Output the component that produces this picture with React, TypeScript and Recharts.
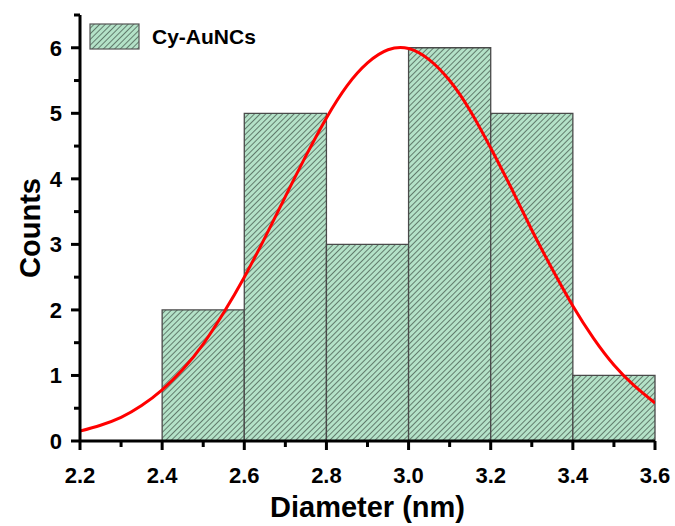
import React from 'react';
import { ComposedChart, Line, XAxis, YAxis, ReferenceArea, ReferenceLine } from 'recharts';

// histogram bins (nm) and counts
const binStarts = [2.4, 2.6, 2.8, 3.0, 3.2, 3.4];
const binEnds = [2.6, 2.8, 3.0, 3.2, 3.4, 3.6];
const counts = [2, 5, 3, 6, 5, 1];

// gaussian fit curve
const fitX = [2.2, 2.25, 2.3, 2.35, 2.4, 2.45, 2.5, 2.55, 2.6, 2.65, 2.7, 2.75, 2.8, 2.85, 2.9, 2.95,
  3.0, 3.05, 3.1, 3.15, 3.2, 3.25, 3.3, 3.35, 3.4, 3.45, 3.5, 3.55, 3.6];
const fitY = [0.15, 0.24, 0.36, 0.54, 0.78, 1.09, 1.48, 1.96, 2.5, 3.1, 3.73, 4.35, 4.93, 5.42, 5.77, 5.97,
  5.99, 5.82, 5.5, 5.04, 4.47, 3.86, 3.22, 2.62, 2.06, 1.57, 1.16, 0.84, 0.58];

const xTicks = [2.2, 2.3, 2.4, 2.5, 2.6, 2.7, 2.8, 2.9, 3.0, 3.1, 3.2, 3.3, 3.4, 3.5, 3.6];
const yTicks = [0, 0.5, 1, 1.5, 2, 2.5, 3, 3.5, 4, 4.5, 5, 5.5, 6, 6.5];

const seriesName = 'Cy-AuNCs';

const fitData = fitX.map((x, i) => ({ x, y: fitY[i] }));

const FONT = '"Liberation Sans", Arial, sans-serif';

const isMajorX = (v: number) => Math.round(v * 10) % 2 === 0;

const XLabel = (props: any) => {
  const { x, y, payload } = props;
  if (!isMajorX(payload.value)) return <g />;
  return (
    <text x={x} y={y + 42} textAnchor="middle" fontFamily={FONT} fontWeight="bold" fontSize={22} fill="#000">
      {payload.value.toFixed(1)}
    </text>
  );
};

const YLabel = (props: any) => {
  const { x, y, payload } = props;
  if (!Number.isInteger(payload.value)) return <g />;
  return (
    <text x={x - 18} y={y + 8} textAnchor="end" fontFamily={FONT} fontWeight="bold" fontSize={22} fill="#000">
      {payload.value}
    </text>
  );
};

// outward tick marks drawn as short segments in data units (major ~9px, minor ~6px)
const X_TICK_LEN = [9 / 65.5, 6 / 65.5];
const Y_TICK_LEN = [9 / 410.7, 6 / 410.7];

const Hatch = ({ id }: { id: string }) => (
  <pattern id={id} width="4" height="4" patternUnits="userSpaceOnUse" patternTransform="rotate(45)">
    <rect width="4" height="4" fill="#b4e2c8" />
    <line x1="0" y1="0" x2="0" y2="4" stroke="#4d6256" strokeWidth={1.6} />
  </pattern>
);

export default function App() {
  return (
    <div style={{ position: 'absolute', left: 0, top: 0, width: 675, height: 526, background: '#fff' }}>
      <ComposedChart width={675} height={526} data={fitData} margin={{ top: 15, right: 20, bottom: 0, left: 0 }}>
        <defs>
          <Hatch id="hatch" />
        </defs>
        <XAxis
          dataKey="x"
          type="number"
          domain={[2.2, 3.6]}
          ticks={xTicks}
          interval={0}
          height={85}
          tickSize={0}
          tickMargin={0}
          tickLine={false}
          tick={<XLabel />}
          axisLine={{ stroke: '#000', strokeWidth: 3 }}
          allowDataOverflow
          label={{ value: 'Diameter (nm)', position: 'insideBottom', offset: 9, fontFamily: FONT, fontWeight: 'bold', fontSize: 29, fill: '#000' }}
        />
        <XAxis xAxisId="top" orientation="top" type="number" domain={[2.2, 3.6]} height={0} tick={false} tickLine={false}
          axisLine={{ stroke: '#000', strokeWidth: 3 }} />
        <YAxis
          type="number"
          domain={[0, 6.5]}
          ticks={yTicks}
          interval={0}
          width={80}
          tickSize={0}
          tickMargin={0}
          tickLine={false}
          tick={<YLabel />}
          axisLine={{ stroke: '#000', strokeWidth: 3 }}
          allowDataOverflow
          label={{ value: 'Counts', angle: -90, position: 'center', dx: -10, fontFamily: FONT, fontWeight: 'bold', fontSize: 29, fill: '#000' }}
        />
        <YAxis yAxisId="right" orientation="right" domain={[0, 6.5]} width={0} tick={false} tickLine={false}
          axisLine={{ stroke: '#000', strokeWidth: 3 }} />
        {binStarts.map((s, i) => (
          <ReferenceArea key={s} x1={s} x2={binEnds[i]} y1={0} y2={counts[i]} fill="url(#hatch)" fillOpacity={1}
            stroke="#4a4a4a" strokeWidth={1.3} />
        ))}
        <Line dataKey="y" type="natural" stroke="#ff0000" strokeWidth={3} dot={false} isAnimationActive={false} />
        {xTicks.map((t) => (
          <ReferenceLine key={'xt' + t} ifOverflow="visible" stroke="#000" strokeWidth={3}
            segment={[{ x: t, y: 0 }, { x: t, y: -X_TICK_LEN[isMajorX(t) ? 0 : 1] }]} />
        ))}
        {yTicks.map((t) => (
          <ReferenceLine key={'yt' + t} ifOverflow="visible" stroke="#000" strokeWidth={3}
            segment={[{ x: 2.2, y: t }, { x: 2.2 - Y_TICK_LEN[Number.isInteger(t) ? 0 : 1], y: t }]} />
        ))}
      </ComposedChart>
      {/* legend overlay inside the plot frame */}
      <div style={{ position: 'absolute', left: 89, top: 23, display: 'flex', alignItems: 'center' }}>
        <svg width={52} height={27}>
          <defs>
            <Hatch id="hatchLegend" />
          </defs>
          <rect x={1} y={1} width={49} height={25} fill="url(#hatchLegend)" stroke="#555" strokeWidth={1.2} />
        </svg>
        <span style={{ marginLeft: 11, fontFamily: FONT, fontWeight: 'bold', fontSize: 21, color: '#000' }}>{seriesName}</span>
      </div>
    </div>
  );
}
